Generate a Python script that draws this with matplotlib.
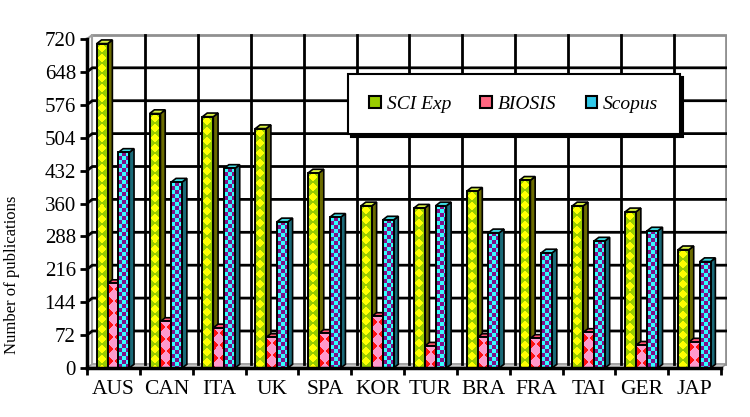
import numpy as np
import matplotlib.pyplot as plt
from matplotlib.patches import Polygon, Rectangle, Patch

countries = ['AUS', 'CAN', 'ITA', 'UK', 'SPA', 'KOR', 'TUR', 'BRA', 'FRA', 'TAI', 'GER', 'JAP']
sci_exp = [710, 557, 550, 524, 427, 355, 350, 387, 411, 355, 342, 259]
biosis = [185, 102, 88, 67, 76, 113, 48, 67, 65, 78, 50, 57]
scopus = [472, 407, 437, 320, 330, 324, 355, 296, 252, 278, 300, 233]
series_names = ['SCI Exp', 'BIOSIS', 'Scopus']
y_ticks = list(range(0, 721, 72))

plt.rcParams['font.family'] = ['Liberation Serif', 'DejaVu Serif']

# look of each series: (texture, side colour, top colour, legend colour)
styles = {
    'SCI Exp': ('diamond', '#6b6b00', '#d8f040', '#99cc00'),
    'BIOSIS': ('edge_diamond', '#a0204a', '#ff5070', '#ff6680'),
    'Scopus': ('checker', '#1a6a78', '#40d8e0', '#30c8e8'),
}


def make_tex(kind, ny, nx):
    i, j = np.mgrid[0:ny, 0:nx]
    if kind == 'checker':
        a = np.array([0x33, 0xff, 0xff]) / 255
        b = np.array([0x80, 0x10, 0x88]) / 255
        m = ((i // 4) + (j // 4)) % 2 == 0
    elif kind == 'diamond':
        a = np.array([0xff, 0xff, 0x00]) / 255
        b = np.array([0x99, 0xcc, 0x00]) / 255
        p = 10
        u = (j % p) - (p - 1) / 2
        v = (i % p) - (p - 1) / 2
        m = np.abs(u) + np.abs(v) <= 4.5
    else:
        a = np.array([0xff, 0x10, 0x10]) / 255
        b = np.array([0xff, 0x99, 0xcc]) / 255
        p = 12
        u = ((j + nx // 2) % nx) - (nx - 1) / 2
        v = (i % p) - (p - 1) / 2
        m = np.abs(u) + np.abs(v) <= 5.0
    tex = np.where(m[..., None], a, b)
    return tex


fig = plt.figure(figsize=(7.5, 4.17), dpi=100)
ax = fig.add_axes([87 / 750, 1 - 368 / 417, 640 / 750, 334 / 417])

n = len(countries)
wdx, wdz = 0.1, 9      # depth of the back wall
bdx, bdz = 0.09, 8     # depth of each bar
bw = 0.205
start = 0.185
xmax = n + wdx + 0.01
ymax = 720 + wdz + 2
ax.set_xlim(0, xmax)
ax.set_ylim(0, ymax)
ppx = 640 / xmax
ppy = 334 / ymax

# walls and floor
ax.add_patch(Polygon([(0, 0), (wdx, wdz), (n + wdx, wdz), (n, 0)], closed=True,
                     fc='#c8c8c8', ec='#909090', lw=1, zorder=1))
ax.plot([wdx, n + wdx, n + wdx], [720 + wdz, 720 + wdz, wdz], color='#909090', lw=2, zorder=1)
ax.plot([wdx, wdx], [wdz, 720 + wdz], color='#a0a0a0', lw=1.5, zorder=1)
ax.plot([0, wdx], [720, 720 + wdz], color='#a0a0a0', lw=1.5, zorder=1)
for v in y_ticks[1:-1]:
    ax.plot([0, wdx, n + wdx], [v, v + wdz, v + wdz], color='black', lw=2, zorder=1)
for k in range(1, n):
    ax.plot([k + wdx, k + wdx], [wdz, 720 + wdz], color='black', lw=2, zorder=1)

data = {'SCI Exp': sci_exp, 'BIOSIS': biosis, 'Scopus': scopus}
for g in range(n):
    for s, name in enumerate(series_names):
        kind, side, top, _ = styles[name]
        h = data[name][g]
        x0 = g + start + s * bw
        x1 = x0 + bw
        ax.add_patch(Polygon([(x1, 0), (x1 + bdx, bdz), (x1 + bdx, h + bdz), (x1, h)],
                             closed=True, fc=side, ec='black', lw=1.2, zorder=3))
        ax.add_patch(Polygon([(x0, h), (x0 + bdx, h + bdz), (x1 + bdx, h + bdz), (x1, h)],
                             closed=True, fc=top, ec='black', lw=1.2, zorder=3))
        nx = max(1, int(round(bw * ppx)))
        ny = max(1, int(round(h * ppy)))
        ax.imshow(make_tex(kind, ny, nx), extent=(x0, x1, 0, h), aspect='auto',
                  interpolation='nearest', zorder=3)
        ax.add_patch(Rectangle((x0, 0), bw, h, fill=False, ec='black', lw=1.4, zorder=3))

ax.set_xlim(0, xmax)
ax.set_ylim(0, ymax)

for sp in ['top', 'right']:
    ax.spines[sp].set_visible(False)
for sp in ['left', 'bottom']:
    ax.spines[sp].set_linewidth(2.5)
    ax.spines[sp].set_bounds(0, n if sp == 'bottom' else 720)
    ax.spines[sp].set_zorder(4)

ax.set_yticks(y_ticks)
ax.set_yticklabels([str(v) for v in y_ticks], fontsize=15)
ax.tick_params(axis='y', direction='out', length=5, width=2, pad=3)
ax.set_xticks(range(n + 1))
ax.set_xticklabels([])
ax.tick_params(axis='x', which='major', direction='out', length=5, width=2)
ax.set_xticks([g + 0.5 for g in range(n)], minor=True)
ax.set_xticklabels(countries, minor=True, fontsize=15.5)
ax.tick_params(axis='x', which='minor', length=0, pad=9)

ax.set_ylabel('Number of publications', fontsize=12)
ax.yaxis.set_label_coords(-0.104, 0.28)

handles = [Patch(fc=styles[nm][3], ec='black', lw=1.5) for nm in series_names]
leg = ax.legend(handles, series_names, loc='center', bbox_to_anchor=(0.667, 0.79),
                ncol=3, prop={'style': 'italic', 'size': 14}, frameon=True, fancybox=False,
                shadow={'color': 'black', 'alpha': 1}, borderpad=1.1, handlelength=0.6,
                handleheight=0.6, handletextpad=0.3, columnspacing=1.5)
leg.get_frame().set_edgecolor('black')
leg.get_frame().set_linewidth(1.5)
leg.set_zorder(6)

fig.savefig('out.png', dpi=100)
